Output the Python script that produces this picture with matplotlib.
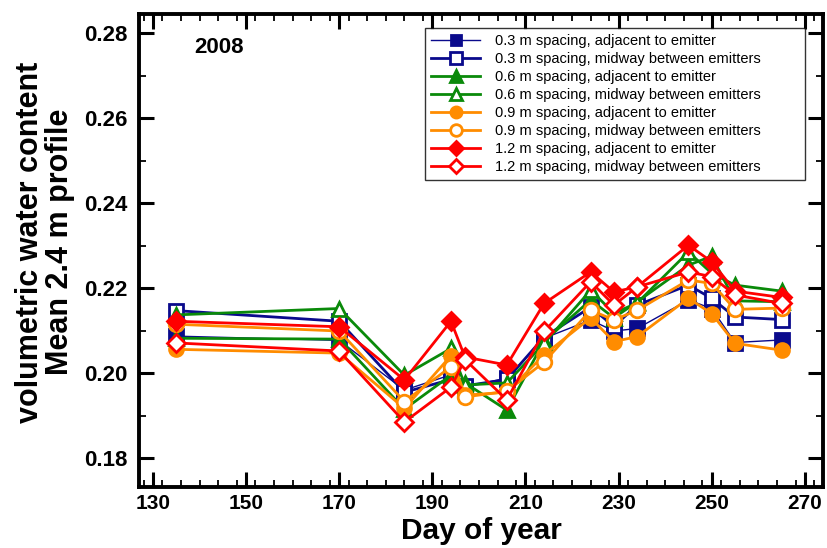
import matplotlib
matplotlib.use("Agg")
import matplotlib.pyplot as plt
from matplotlib.ticker import MultipleLocator

plt.rcParams['font.family'] = ['Liberation Sans', 'DejaVu Sans']

days = [135, 170, 184, 194, 197, 206, 214, 224, 229, 234, 245, 250, 255, 265]

s03_adj = [0.2087, 0.2077, 0.1960, 0.1996, 0.1968, 0.1988, 0.2082, 0.2125, 0.2099, 0.2105, 0.2172, 0.2152, 0.2072, 0.2078]
s03_mid = [0.2147, 0.2122, 0.1955, 0.1985, 0.1970, 0.1985, 0.2085, 0.2155, 0.2110, 0.2160, 0.2207, 0.2176, 0.2132, 0.2126]
s06_adj = [0.2082, 0.2080, 0.1915, 0.1995, 0.1977, 0.1913, 0.2075, 0.2172, 0.2130, 0.2168, 0.2254, 0.2275, 0.2170, 0.2168]
s06_mid = [0.2137, 0.2152, 0.1995, 0.2058, 0.1972, 0.1977, 0.2070, 0.2195, 0.2141, 0.2165, 0.2285, 0.2235, 0.2207, 0.2193]
s09_adj = [0.2056, 0.2047, 0.1917, 0.2041, 0.1948, 0.1955, 0.2043, 0.2130, 0.2074, 0.2086, 0.2176, 0.2140, 0.2070, 0.2054]
s09_mid = [0.2115, 0.2099, 0.1933, 0.2015, 0.1944, 0.1957, 0.2026, 0.2148, 0.2125, 0.2148, 0.2219, 0.2211, 0.2150, 0.2153]
s12_adj = [0.2122, 0.2109, 0.1984, 0.2122, 0.2038, 0.2019, 0.2164, 0.2238, 0.2191, 0.2203, 0.2301, 0.2262, 0.2193, 0.2178]
s12_mid = [0.2071, 0.2052, 0.1885, 0.1967, 0.2032, 0.1937, 0.2098, 0.2215, 0.2160, 0.2203, 0.2238, 0.2227, 0.2184, 0.2164]

labels = [
    "0.3 m spacing, adjacent to emitter",
    "0.3 m spacing, midway between emitters",
    "0.6 m spacing, adjacent to emitter",
    "0.6 m spacing, midway between emitters",
    "0.9 m spacing, adjacent to emitter",
    "0.9 m spacing, midway between emitters",
    "1.2 m spacing, adjacent to emitter",
    "1.2 m spacing, midway between emitters",
]

NAVY = '#0a0a8c'
GREEN = '#0a8a0a'
ORANGE = '#ff8c00'
RED = '#ff0000'

series = [
    (s03_adj, NAVY, 's', True, 1.0, 9.5),
    (s03_mid, NAVY, 's', False, 2.0, 10),
    (s06_adj, GREEN, '^', True, 2.0, 10),
    (s06_mid, GREEN, '^', False, 2.0, 10.5),
    (s09_adj, ORANGE, 'o', True, 2.0, 10),
    (s09_mid, ORANGE, 'o', False, 2.0, 10.5),
    (s12_adj, RED, 'D', True, 2.0, 9),
    (s12_mid, RED, 'D', False, 2.0, 9),
]

fig = plt.figure(figsize=(8.27, 5.48), dpi=100)
ax = fig.add_axes([139/827, 1-487/548, (823-139)/827, (487-14)/548])

for (vals, col, mk, filled, lw, ms), lab in zip(series, labels):
    ax.plot(days, vals, color=col, lw=lw, marker=mk, markersize=ms,
            markerfacecolor=col if filled else 'white',
            markeredgecolor=col, markeredgewidth=2.0, label=lab)

ax.set_xlim(127.0, 273.9)
ax.set_ylim(0.1732, 0.2845)
ax.xaxis.set_minor_locator(MultipleLocator(4))
ax.yaxis.set_minor_locator(MultipleLocator(0.01))
ax.set_xticks(range(130, 271, 20))
ax.set_xticklabels([str(v) for v in range(130, 271, 20)])
ax.set_yticks([0.18, 0.20, 0.22, 0.24, 0.26, 0.28])
ax.set_yticklabels(['0.18', '0.20', '0.22', '0.24', '0.26', '0.28'])

for sp in ax.spines.values():
    sp.set_linewidth(2.8)
ax.tick_params(which='both', direction='in', top=True, right=True, width=1.3)
ax.tick_params(which='major', length=11, width=2.2)
ax.tick_params(which='minor', length=5)
ax.tick_params(axis='y', which='major', labelsize=16, pad=8)
ax.tick_params(axis='x', which='major', labelsize=15, pad=5)
for t in ax.get_xticklabels() + ax.get_yticklabels():
    t.set_fontweight('bold')

ax.set_xlabel("Day of year", fontsize=21.5, fontweight='bold', labelpad=3)
fig.text(45/827, 1-242/548, "volumetric water content\nMean 2.4 m profile",
         rotation=90, ha='center', va='center', fontsize=22, fontweight='bold',
         multialignment='center', linespacing=1.0)

ax.text(144.2, 0.2767, "2008", fontsize=16, fontweight='bold', ha='center', va='center')

ax_w = 823 - 139
ax_h = 487 - 14
x0 = (425 - 139) / ax_w
w = (805 - 425) / ax_w
top = (487 - 28) / ax_h
leg = ax.legend(loc='upper left', bbox_to_anchor=(x0, top - 0.5, w, 0.5), mode='expand',
                fontsize=10.5, frameon=True, fancybox=False, edgecolor='black',
                handlelength=3.4, handletextpad=1.0, labelspacing=0.28,
                borderpad=0.4, borderaxespad=0, markerscale=0.8)
leg.get_frame().set_linewidth(1.0)

fig.savefig("out.png", dpi=100)
